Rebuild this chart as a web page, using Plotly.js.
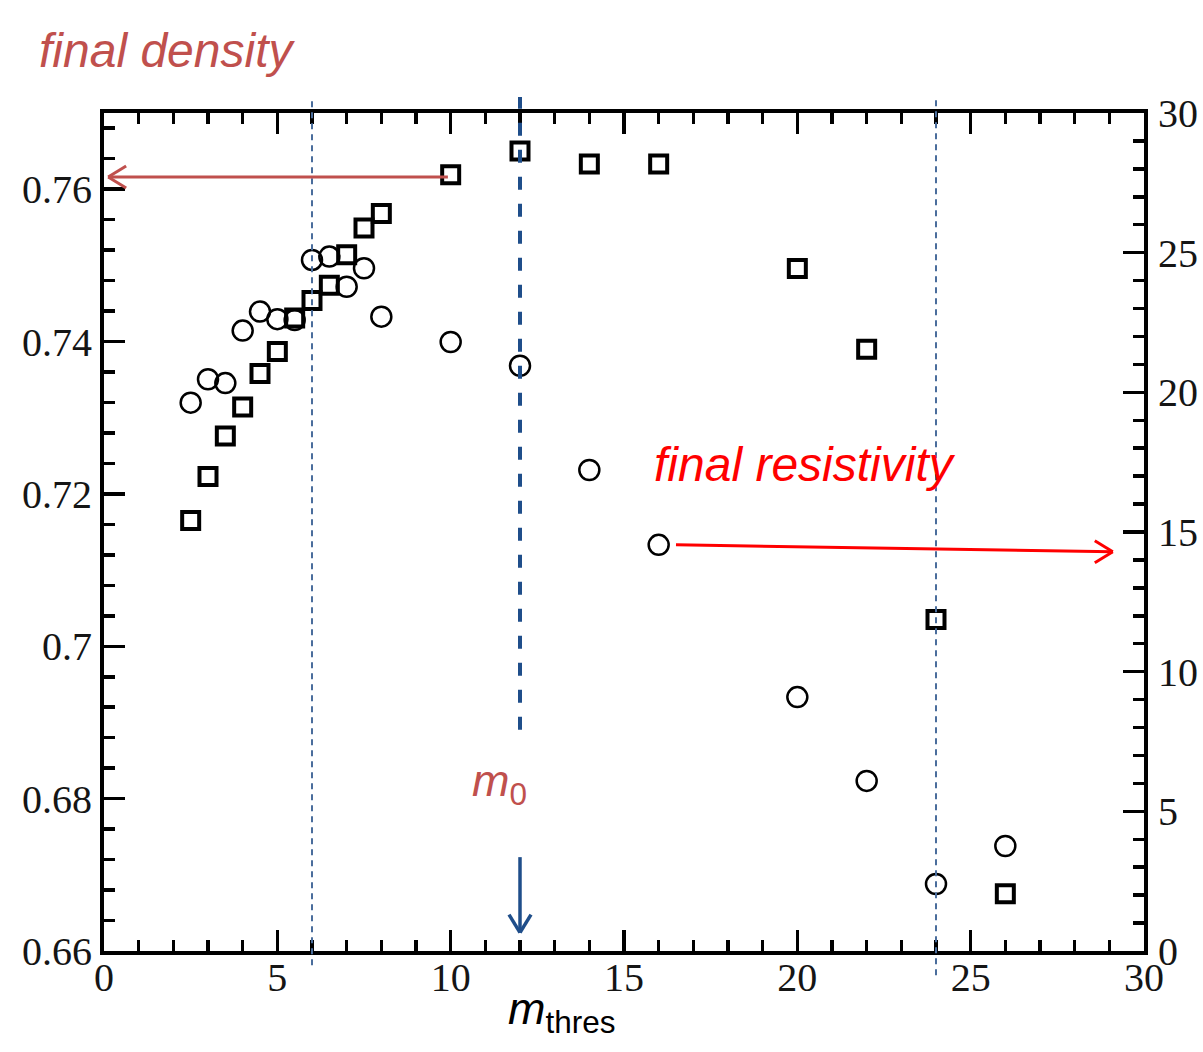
<!DOCTYPE html>
<html>
<head>
<meta charset="utf-8">
<script src="https://cdn.plot.ly/plotly-3.0.1.min.js"></script>
<style>html,body{margin:0;padding:0;background:#fff;}#chart{width:1203px;height:1052px;}</style>
</head>
<body>
<div id="chart"></div>
<script>
// ---- data ----
var mThres = [2.5, 3, 3.5, 4, 4.5, 5, 5.5, 6, 6.5, 7, 7.5, 8, 10, 12, 14, 16, 20, 22, 24, 26];
var finalDensity = [0.7165, 0.7223, 0.7276, 0.7314, 0.7358, 0.7387, 0.7431, 0.7454, 0.7474, 0.7514,
                    0.7549, 0.7568, 0.7619, 0.7650, 0.7633, 0.7633, 0.7496, 0.7390, 0.7035, 0.6675];
var finalResistivity = [19.63, 20.47, 20.33, 22.21, 22.89, 22.62, 22.59, 24.74, 24.86, 23.78,
                        24.44, 22.71, 21.80, 20.95, 17.22, 14.54, 9.09, 6.09, 2.40, 3.76];
var xTickVals = [0, 5, 10, 15, 20, 25, 30];
var xTickText = ['0', '5', '10', '15', '20', '25', '30'];
var yTickVals = [0.66, 0.68, 0.70, 0.72, 0.74, 0.76];
var yTickText = ['0.66', '0.68', '0.7', '0.72', '0.74', '0.76'];
var y2TickVals = [0, 5, 10, 15, 20, 25, 30];
var y2TickText = ['0', '5', '10', '15', '20', '25', '30'];
var guideLines = [6, 12, 24];
var m0 = 12;

var tickFont = {family: 'Liberation Serif, Times New Roman, serif', size: 40, color: '#151515'};

var traces = [
  {
    x: mThres, y: finalDensity, type: 'scatter', mode: 'markers', yaxis: 'y',
    marker: {symbol: 'square-open', size: 17, color: '#000', line: {color: '#000', width: 4}},
    cliponaxis: false, hoverinfo: 'x+y'
  },
  {
    x: mThres, y: finalResistivity, type: 'scatter', mode: 'markers', yaxis: 'y2',
    marker: {symbol: 'circle-open', size: 20, color: '#000', line: {color: '#000', width: 2.5}},
    cliponaxis: false, hoverinfo: 'x+y'
  }
];

var axisCommon = {
  showgrid: false, zeroline: false, showline: true, linecolor: '#000', linewidth: 4,
  ticks: 'inside', tickcolor: '#000', tickwidth: 3.5, ticklen: 21, tickfont: tickFont
};

function arrowShapes(xTip, yTip, xTail, yTail, yref, color, dir) {
  // main shaft + open V head (head arms in pixels relative to the tip)
  var s = [];
  s.push({type: 'line', xref: 'x', yref: yref, x0: xTail, y0: yTail, x1: xTip, y1: yTip,
          line: {color: color, width: 3}, layer: 'above'});
  [11, -11].forEach(function (dy) {
    s.push({type: 'line', xref: 'x', yref: yref, xsizemode: 'pixel', ysizemode: 'pixel',
            xanchor: xTip, yanchor: yTip, x0: 0, y0: 0, x1: 18 * dir, y1: dy,
            line: {color: color, width: 3}, layer: 'above'});
  });
  return s;
}

var shapes = [];
// thin dashed guides
shapes.push({type: 'line', xref: 'x', yref: 'paper', x0: guideLines[0], x1: guideLines[0], y0: -0.017, y1: 1.019,
             line: {color: '#4a6d9c', width: 2, dash: '6px,5px'}, layer: 'above'});
shapes.push({type: 'line', xref: 'x', yref: 'paper', x0: guideLines[2], x1: guideLines[2], y0: -0.029, y1: 1.019,
             line: {color: '#4a6d9c', width: 2, dash: '6px,5px'}, layer: 'above'});
// thick dashed m0 line
shapes.push({type: 'line', xref: 'x', yref: 'paper', x0: guideLines[1], x1: guideLines[1], y0: 0.264, y1: 1.019,
             line: {color: '#1f4e8a', width: 4, dash: '13px,14px'}, layer: 'above'});
// m0 arrow pointing down to the axis
shapes.push({type: 'line', xref: 'x', yref: 'paper', x0: m0, x1: m0, y0: 0.112, y1: 0.022,
             line: {color: '#1f4e8a', width: 3.5}, layer: 'above'});
[-11, 11].forEach(function (dx) {
  shapes.push({type: 'line', xref: 'x', yref: 'paper', xsizemode: 'pixel', ysizemode: 'pixel',
               xanchor: m0, yanchor: 0.022, x0: 0, y0: 0, x1: dx, y1: 18,
               line: {color: '#1f4e8a', width: 3.5}, layer: 'above'});
});
// density arrow (to left axis) and resistivity arrow (to right axis)
shapes = shapes.concat(arrowShapes(0.12, 0.7616, 9.92, 0.7616, 'y', '#c0504d', 1));
shapes = shapes.concat(arrowShapes(29.1, 14.29, 16.5, 14.54, 'y2', '#ff0000', -1));

var annotations = [
  {text: '<i>final density</i>', xref: 'paper', yref: 'paper', x: -0.064, y: 1.074,
   xanchor: 'left', yanchor: 'middle', showarrow: false,
   font: {family: 'Liberation Sans, Arial, sans-serif', size: 48, color: '#c0504d'}},
  {text: '<i>final resistivity</i>', xref: 'paper', yref: 'paper', x: 0.527, y: 0.58,
   xanchor: 'left', yanchor: 'middle', showarrow: false,
   font: {family: 'Liberation Sans, Arial, sans-serif', size: 48, color: '#ff0000'}},
  {text: '<i>m</i><sub>0</sub>', xref: 'x', yref: 'paper', x: m0, y: 0.2,
   xanchor: 'right', xshift: 9, yanchor: 'middle', showarrow: false,
   font: {family: 'Liberation Sans, Arial, sans-serif', size: 45, color: '#c0504d'}},
  {text: '<i>m</i><sub>thres</sub>', xref: 'paper', yref: 'paper', x: 0.44, y: -0.072,
   xanchor: 'center', yanchor: 'middle', showarrow: false,
   font: {family: 'Liberation Sans, Arial, sans-serif', size: 45, color: '#000'}}
];

var layout = {
  width: 1203, height: 1052,
  margin: {l: 104, r: 59, t: 113, b: 101, pad: 0},
  paper_bgcolor: '#fff', plot_bgcolor: '#fff',
  showlegend: false,
  xaxis: Object.assign({}, axisCommon, {
    range: [0, 30], tickmode: 'array', tickvals: xTickVals, ticktext: xTickText,
    mirror: 'ticks', ticklabelstandoff: -12,
    minor: {tickmode: 'linear', tick0: 0, dtick: 1, ticks: 'inside', ticklen: 11, tickwidth: 3.5, tickcolor: '#000'}
  }),
  yaxis: Object.assign({}, axisCommon, {
    range: [0.66, 0.77], tickmode: 'array', tickvals: yTickVals, ticktext: yTickText,
    ticklabelstandoff: 0,
    minor: {tickmode: 'linear', tick0: 0.66, dtick: 0.004, ticks: 'inside', ticklen: 11, tickwidth: 3.5, tickcolor: '#000'}
  }),
  yaxis2: Object.assign({}, axisCommon, {
    range: [0, 30], overlaying: 'y', side: 'right', tickmode: 'array',
    tickvals: y2TickVals, ticktext: y2TickText, ticklabelstandoff: 2,
    minor: {tickmode: 'linear', tick0: 0, dtick: 1, ticks: 'inside', ticklen: 11, tickwidth: 3.5, tickcolor: '#000'}
  }),
  shapes: shapes,
  annotations: annotations
};

Plotly.newPlot('chart', traces, layout, {displayModeBar: false, staticPlot: true});
</script>
</body>
</html>
